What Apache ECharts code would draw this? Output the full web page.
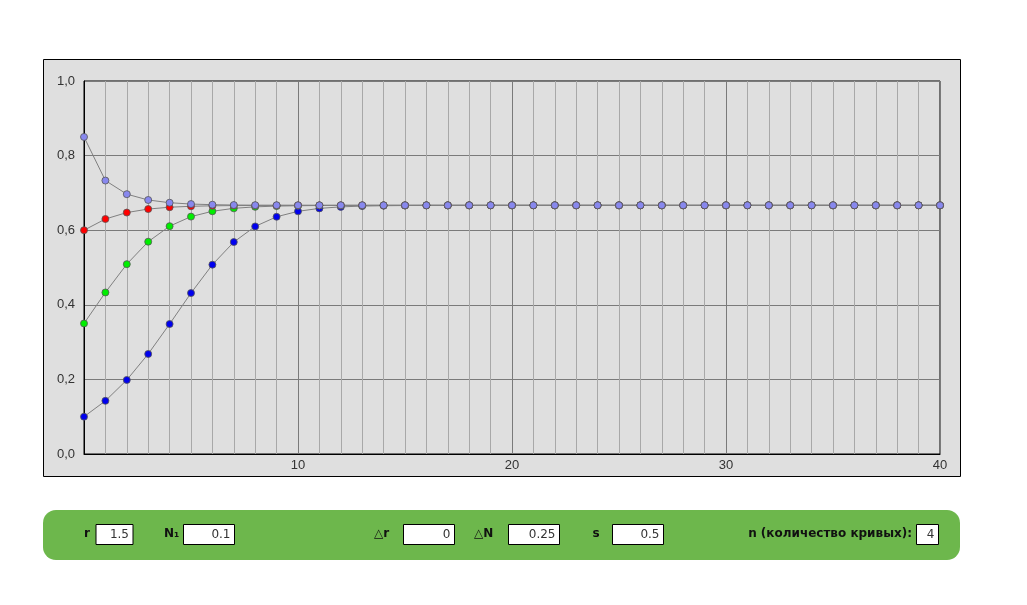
<!DOCTYPE html>
<html>
<head>
<meta charset="utf-8">
<script src="https://cdn.jsdelivr.net/npm/echarts@6/dist/echarts.min.js"></script>
<style>
html,body{margin:0;padding:0;background:#fff;}
#chart{width:1027px;height:605px;}
</style>
</head>
<body>
<div id="chart"></div>
<script>
// x values (time steps)
const steps = [0,1,2,3,4,5,6,7,8,9,10,11,12,13,14,15,16,17,18,19,20,21,22,23,24,25,26,27,28,29,30,31,32,33,34,35,36,37,38,39,40];
// curve 1 (N1 = 0.1)
const curveBlue = [0.1,0.1425,0.1985,0.2682,0.3484,0.4315,0.5076,0.5682,0.6102,0.636,0.6506,0.6585,0.6625,0.6646,0.6656,0.6661,0.6664,0.6665,0.6666,0.6666,
  0.6667,0.6667,0.6667,0.6667,0.6667,0.6667,0.6667,0.6667,0.6667,0.6667,0.6667,0.6667,0.6667,0.6667,0.6667,0.6667,0.6667,0.6667,0.6667,0.6667,0.6667];
// curve 2 (N1 = 0.35)
const curveGreen = [0.35,0.4331,0.509,0.5692,0.6108,0.6364,0.6508,0.6586,0.6626,0.6646,0.6656,0.6661,0.6664,0.6665,0.6666,0.6666,
  0.6667,0.6667,0.6667,0.6667,0.6667,0.6667,0.6667,0.6667,0.6667,0.6667,0.6667,0.6667,0.6667,0.6667,0.6667,0.6667,0.6667,0.6667,0.6667,0.6667,0.6667,0.6667,0.6667,0.6667,0.6667];
// curve 3 (N1 = 0.6)
const curveRed = [0.6,0.63,0.6473,0.6567,0.6616,0.6641,0.6654,0.666,0.6663,0.6665,0.6666,0.6666,
  0.6667,0.6667,0.6667,0.6667,0.6667,0.6667,0.6667,0.6667,0.6667,0.6667,0.6667,0.6667,0.6667,0.6667,0.6667,0.6667,0.6667,0.6667,0.6667,0.6667,0.6667,0.6667,0.6667,0.6667,0.6667,0.6667,0.6667,0.6667,0.6667];
// curve 4 (N1 = 0.85)
const curveLight = [0.85,0.7331,0.6966,0.681,0.6737,0.6701,0.6684,0.6675,0.6671,0.6669,0.6668,
  0.6667,0.6667,0.6667,0.6667,0.6667,0.6667,0.6667,0.6667,0.6667,0.6667,0.6667,0.6667,0.6667,0.6667,0.6667,0.6667,0.6667,0.6667,0.6667,0.6667,0.6667,0.6667,0.6667,0.6667,0.6667,0.6667,0.6667,0.6667,0.6667,0.6667];

const curves = [
  {name:'N1=0.1', values: curveBlue, color:'#0000ee'},
  {name:'N1=0.35', values: curveGreen, color:'#00ee00'},
  {name:'N1=0.6', values: curveRed, color:'#ff0000'},
  {name:'N1=0.85', values: curveLight, color:'#8888ee'}
];

// control panel texts
const panelLabels = ['r','N\u2081','\u25B3r','\u25B3N','s','n (количество кривых):'];
const panelValues = ['1.5','0.1','0','0.25','0.5','4'];

const chart = echarts.init(document.getElementById('chart'), null, {renderer:'canvas'});

const labelFont = 'bold 12px "DejaVu Sans", sans-serif';
const boxes = [
  {lx:87, la:'center', bx:96, bw:37},
  {lx:164, la:'left', bx:183.5, bw:51},
  {lx:374, la:'left', bx:403.5, bw:51},
  {lx:474, la:'left', bx:508.5, bw:51},
  {lx:596, la:'center', bx:612.5, bw:51},
  {lx:912, la:'right', bx:916.5, bw:22}
];
const graphics = [
  {type:'rect', z:-10, shape:{x:43.5,y:59.5,width:917,height:417}, style:{fill:'#dfdfdf', stroke:'#000', lineWidth:1}},
  {type:'rect', z:-10, shape:{x:43,y:510,width:917,height:50,r:13}, style:{fill:'#6db74c'}}
];
boxes.forEach((b,i)=>{
  graphics.push({type:'text', style:{text:panelLabels[i], x:b.lx, y:534, font:labelFont, fill:'#111', align:b.la, verticalAlign:'middle'}});
  graphics.push({type:'rect', shape:{x:b.bx, y:524.5, width:b.bw, height:20}, style:{fill:'#fff', stroke:'#000', lineWidth:1}});
  graphics.push({type:'text', style:{text:panelValues[i], x:b.bx+b.bw-4, y:535, font:'12px "DejaVu Sans", sans-serif', fill:'#333', align:'right', verticalAlign:'middle'}});
});

chart.setOption({
  animation:false,
  backgroundColor:'#fff',
  graphic: graphics,
  grid:{left:84, top:81, right:87, bottom:151, show:true, backgroundColor:'transparent', borderColor:'#000', borderWidth:1},
  xAxis:{
    type:'value', min:0, max:40, interval:10,
    axisLine:{show:true, onZero:false, lineStyle:{color:'#000', width:1}},
    axisTick:{show:false},
    minorTick:{show:false, splitNumber:10},
    minorSplitLine:{show:true, lineStyle:{color:'#a8a8a8', width:1}},
    splitLine:{show:true, lineStyle:{color:'#7a7a7a', width:1}},
    axisLabel:{margin:5, color:'#333', fontSize:13, fontFamily:'"Liberation Sans", Arial, sans-serif',
      formatter: v => (v === 0 ? '' : String(v))}
  },
  yAxis:{
    type:'value', min:0, max:1, interval:0.2,
    axisLine:{show:true, onZero:false, lineStyle:{color:'#000', width:1}},
    axisTick:{show:false},
    splitLine:{show:true, lineStyle:{color:'#7a7a7a', width:1}},
    axisLabel:{margin:9, color:'#333', fontSize:13, fontFamily:'"Liberation Sans", Arial, sans-serif',
      formatter: v => v.toFixed(1).replace('.', ',')}
  },
  series: curves.map(c => ({
    type:'line', name:c.name,
    data: c.values.map((v,i)=>[steps[i], v]),
    symbol:'circle', symbolSize:7, showAllSymbol:true,
    lineStyle:{color:'#808080', width:1},
    itemStyle:{color:c.color, borderColor:'#555', borderWidth:0.8},
    emphasis:{disabled:true}
  }))
});
</script>
</body>
</html>
